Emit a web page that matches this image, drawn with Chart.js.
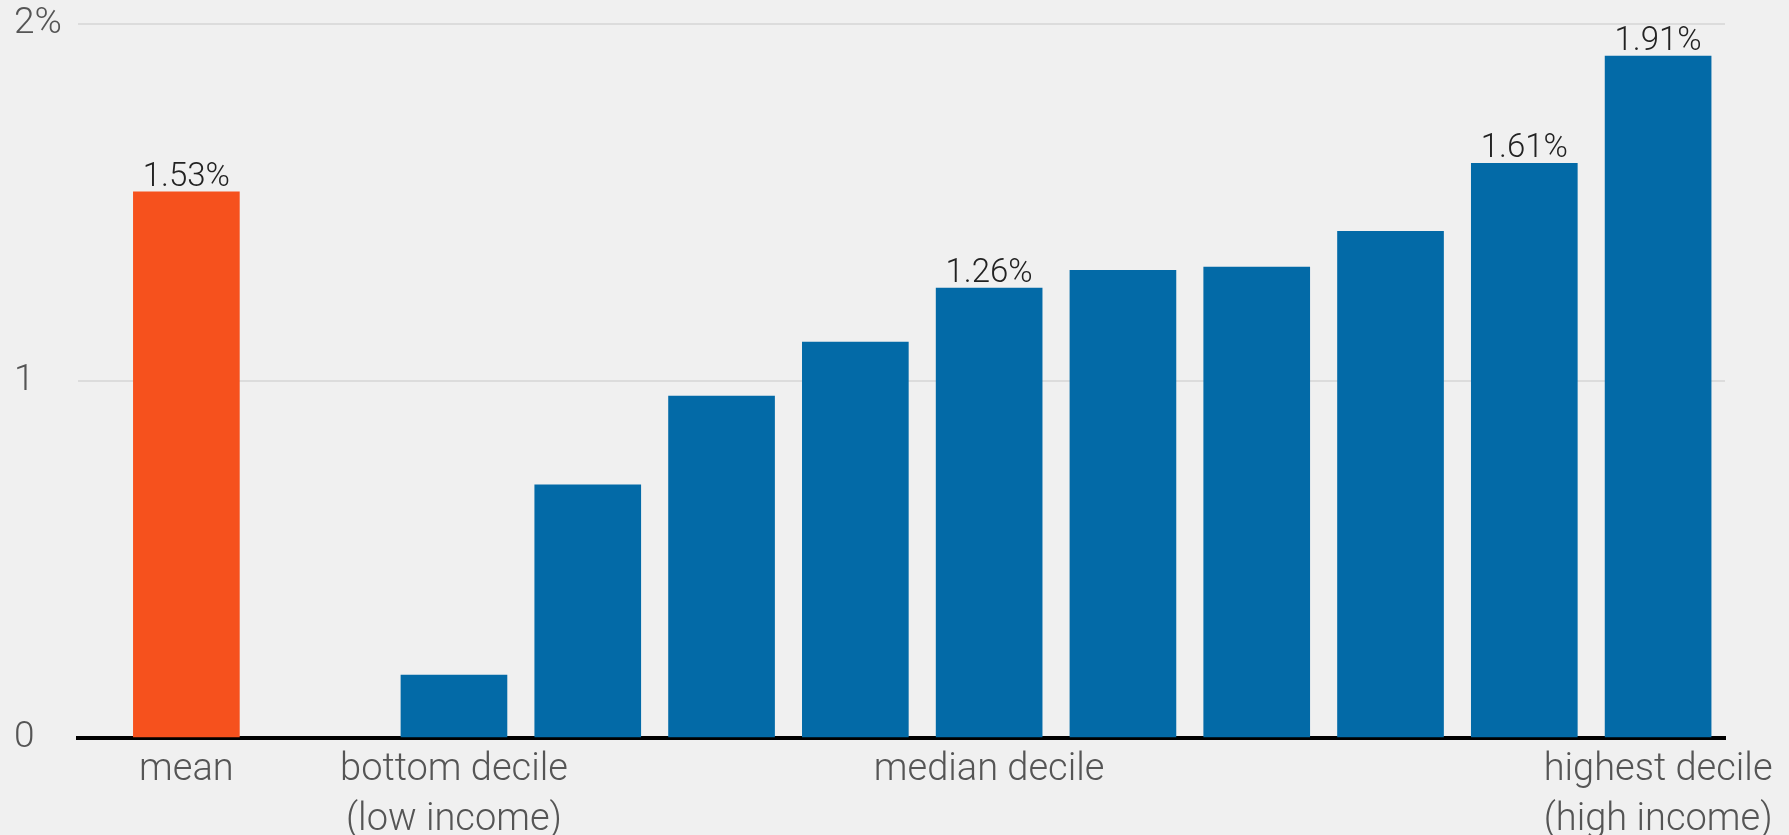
<!DOCTYPE html>
<html>
<head>
<meta charset="utf-8">
<script src="https://cdn.jsdelivr.net/npm/chart.js@4"></script>
<style>
  html, body { margin: 0; padding: 0; background: #f0f0f0; }
  #wrap { width: 1789px; height: 835px; }
</style>
</head>
<body>
<div id="wrap"><canvas id="chart"></canvas></div>
<script>
// ---------- data ----------
// slot 0 = mean, slot 1 = gap, slots 2..11 = income deciles (low -> high)
const slots = [0, 2, 3, 4, 5, 6, 7, 8, 9, 10, 11]
const values = [1.53, 0.176, 0.709, 0.958, 1.109, 1.26, 1.31, 1.319, 1.419, 1.61, 1.91]
const valueLabels = ['1.53%', '', '', '', '', '1.26%', '', '', '', '1.61%', '1.91%']
const barColors = ['#f6511d', '#036aa7', '#036aa7', '#036aa7', '#036aa7', '#036aa7',
  '#036aa7', '#036aa7', '#036aa7', '#036aa7', '#036aa7']

// x tick labels, only at a few slots
const tickSlots = [0, 2, 6, 11]
const tickText = [
  ['mean'],
  ['bottom decile', '(low income)'],
  ['median decile'],
  ['highest decile', '(high income)']
]
const yTicks = [0, 1, 2]

const FONT = "Roboto, 'Liberation Sans', sans-serif"

// draw the % labels above some bars
const barLabels = {
  id: 'barLabels',
  afterDatasetsDraw (chart) {
    const { ctx } = chart
    const meta = chart.getDatasetMeta(0)
    ctx.save()
    ctx.font = `300 33px ${FONT}`
    ctx.fillStyle = '#222'
    ctx.textAlign = 'center'
    ctx.textBaseline = 'bottom'
    meta.data.forEach((bar, i) => {
      if (valueLabels[i]) ctx.fillText(valueLabels[i], bar.x, bar.y + 2)
    })
    ctx.restore()
  }
}

/* global Chart */
new Chart(document.getElementById('chart'), {
  type: 'bar',
  data: {
    datasets: [{
      data: slots.map((s, i) => ({ x: s, y: values[i] })),
      backgroundColor: barColors,
      barThickness: 106,
      borderWidth: 0
    }]
  },
  options: {
    responsive: true,
    maintainAspectRatio: false,
    animation: false,
    layout: { padding: { left: 14, right: 64, top: 24, bottom: 0 } },
    plugins: { legend: { display: false }, tooltip: { enabled: false } },
    scales: {
      x: {
        type: 'linear',
        min: -0.81,
        max: 11.5,
        offset: false,
        afterBuildTicks: (axis) => { axis.ticks = tickSlots.map(v => ({ value: v })) },
        afterFit: (axis) => { axis.height = 97 },
        grid: { display: false },
        border: { display: true, color: '#000', width: 4 },
        ticks: {
          autoSkip: false,
          maxRotation: 0,
          padding: 0,
          color: '#555',
          font: { family: FONT, size: 38, weight: '300', lineHeight: 1.3 },
          callback: (v) => {
            const i = tickSlots.indexOf(v)
            return i >= 0 ? tickText[i] : ''
          }
        }
      },
      y: {
        min: 0,
        max: 2,
        afterBuildTicks: (axis) => { axis.ticks = yTicks.map(v => ({ value: v })) },
        afterFit: (axis) => { axis.width = 64 },
        grid: { color: '#dcdcdc', lineWidth: 2, drawTicks: false },
        border: { display: false },
        ticks: {
          crossAlign: 'far',
          padding: 0,
          color: '#555',
          font: { family: FONT, size: 37, weight: '300' },
          callback: (v) => (v === 2 ? '2%' : String(v))
        }
      }
    }
  },
  plugins: [barLabels]
})
</script>
</body>
</html>
